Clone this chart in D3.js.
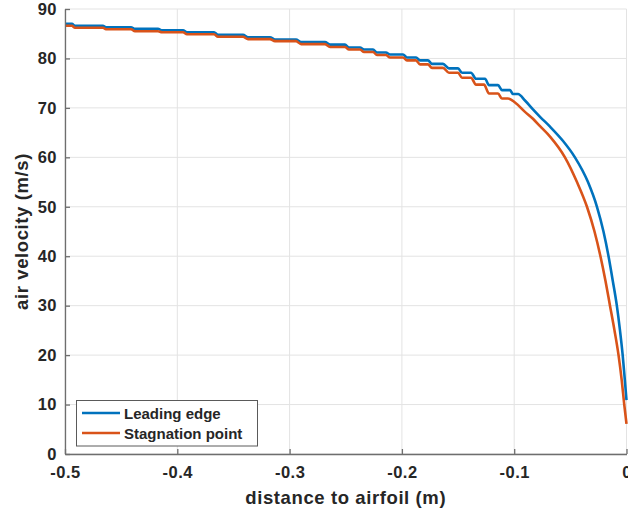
<!DOCTYPE html>
<html>
<head>
<meta charset="utf-8">
<script src="https://cdn.jsdelivr.net/npm/d3@7"></script>
<style>
  html, body { margin: 0; padding: 0; background: #fff; }
  svg { display: block; }
  text { font-family: "Liberation Sans", Arial, Helvetica, sans-serif; font-weight: bold; fill: #262626; }
</style>
</head>
<body>
<svg id="chart" width="628" height="511"></svg>
<script>
// ---- data ----
const seriesNames = ["Leading edge", "Stagnation point"];
const xTicks = [-0.5, -0.4, -0.3, -0.2, -0.1, 0];
const xTickLabels = ["-0.5", "-0.4", "-0.3", "-0.2", "-0.1", "0"];
const yTicks = [0, 10, 20, 30, 40, 50, 60, 70, 80, 90];

const leadingX = [-0.5, -0.4938, -0.4911, -0.4662, -0.4635, -0.4412, -0.4377, -0.4172, -0.4136, -0.3949,
  -0.3914, -0.3673, -0.3638, -0.3415, -0.3370, -0.3175, -0.3130, -0.2943, -0.2898, -0.2685,
  -0.2640, -0.2507, -0.2471, -0.2373, -0.2337, -0.2257, -0.2222, -0.2142, -0.2106, -0.1990,
  -0.1955, -0.1874, -0.1839, -0.1768, -0.1732, -0.1634, -0.1581, -0.1500, -0.1465, -0.1385,
  -0.1340, -0.1260, -0.1224, -0.1144, -0.1109, -0.1037, -0.1011, -0.0966,
  -0.0904, -0.0833, -0.0770, -0.0681, -0.0565, -0.0459, -0.0343, -0.0263, -0.0205, -0.0160,
  -0.0122, -0.0086, -0.0058, -0.0034, -0.0015, 0];
const leadingV = [87.0, 87.0, 86.6, 86.6, 86.3, 86.3, 86.0, 86.0, 85.7, 85.7,
  85.3, 85.3, 84.8, 84.8, 84.3, 84.3, 83.8, 83.8, 83.3, 83.3,
  82.8, 82.8, 82.2, 82.2, 81.8, 81.8, 81.2, 81.2, 80.8, 80.8,
  80.2, 80.2, 79.6, 79.6, 78.9, 78.9, 78.0, 78.0, 77.1, 77.1,
  75.9, 75.9, 74.6, 74.6, 73.6, 73.6, 72.8, 72.8,
  71.5, 69.7, 68.2, 66.2, 63.3, 60.0, 55.0, 50.0, 45.0, 40.0,
  35.0, 30.0, 25.0, 20.0, 15.0, 10.9];

const stagX = [-0.5, -0.4938, -0.4911, -0.4662, -0.4635, -0.4412, -0.4377, -0.4172, -0.4136, -0.3949,
  -0.3914, -0.3673, -0.3638, -0.3415, -0.3370, -0.3175, -0.3130, -0.2943, -0.2898, -0.2685,
  -0.2640, -0.2507, -0.2471, -0.2373, -0.2337, -0.2257, -0.2222, -0.2142, -0.2106, -0.1990,
  -0.1955, -0.1874, -0.1839, -0.1768, -0.1732, -0.1634, -0.1581, -0.1500, -0.1465, -0.1385,
  -0.1340, -0.1269, -0.1224, -0.1144, -0.1109, -0.1055, -0.0993,
  -0.0904, -0.0833, -0.0770, -0.0681, -0.0548, -0.0441, -0.0352, -0.0285, -0.0232, -0.0187,
  -0.0147, -0.0107, -0.0071, -0.0043, -0.0020, 0];
const stagV = [86.6, 86.6, 86.2, 86.2, 85.9, 85.9, 85.5, 85.5, 85.3, 85.3,
  84.9, 84.9, 84.4, 84.4, 83.9, 83.9, 83.5, 83.5, 82.9, 82.9,
  82.3, 82.3, 81.8, 81.8, 81.3, 81.3, 80.7, 80.7, 80.2, 80.2,
  79.6, 79.6, 78.8, 78.8, 78.1, 78.1, 77.1, 77.1, 76.1, 76.1,
  74.7, 74.7, 72.9, 72.9, 71.9, 71.9, 71.1,
  69.2, 67.8, 66.3, 64.2, 60.0, 55.0, 50.0, 45.0, 40.0, 35.0,
  30.0, 25.0, 20.0, 15.0, 10.0, 6.1];

const colors = ["#0072BD", "#D95319"];

// ---- layout ----
const svg = d3.select("#chart");
const L = 65, R = 626.5, T = 9, B = 454;
const x = d3.scaleLinear().domain([-0.5, 0]).range([L, R]);
const y = d3.scaleLinear().domain([0, 90]).range([B, T]);

// grid
const grid = svg.append("g");
grid.selectAll("line.gx").data(xTicks).join("line")
  .attr("x1", d => x(d)).attr("x2", d => x(d)).attr("y1", T).attr("y2", B)
  .attr("stroke", "#e3e3e3").attr("stroke-width", 1);
grid.selectAll("line.gy").data(yTicks).join("line")
  .attr("x1", L).attr("x2", R).attr("y1", d => y(d)).attr("y2", d => y(d))
  .attr("stroke", "#e3e3e3").attr("stroke-width", 1);

// lines
const line = d3.line().x(d => x(d[0])).y(d => y(d[1])).curve(d3.curveMonotoneX);
const series = [d3.zip(leadingX, leadingV), d3.zip(stagX, stagV)];
svg.append("g").selectAll("path").data(series).join("path")
  .attr("d", line)
  .attr("fill", "none")
  .attr("stroke", (d, i) => colors[i])
  .attr("stroke-width", 2.6)
  .attr("stroke-linejoin", "round");

// axes
const xAxis = d3.axisBottom(x).tickValues(xTicks).tickSizeInner(-5).tickSizeOuter(0)
  .tickPadding(10).tickFormat((d, i) => xTickLabels[i]);
const yAxis = d3.axisLeft(y).tickValues(yTicks).tickSizeInner(-5).tickSizeOuter(0)
  .tickPadding(8);

const gx = svg.append("g").attr("transform", `translate(0,${B})`).call(xAxis);
const gy = svg.append("g").attr("transform", `translate(${L},0)`).call(yAxis);
[gx, gy].forEach(g => {
  g.select(".domain").attr("stroke", "#6e6e6e").attr("stroke-width", 1.3);
  g.selectAll(".tick line").attr("stroke", "#6e6e6e").attr("stroke-width", 1.3);
  g.selectAll(".tick text")
    .style("font-family", '"Liberation Sans", Arial, sans-serif')
    .style("font-weight", "bold").style("font-size", "16.5px")
    .style("letter-spacing", "0.5px").attr("fill", "#262626");
});
gx.selectAll(".tick text").attr("dy", "0.71em").attr("y", 12);
gy.selectAll(".tick text").attr("x", -8);

// axis titles
svg.append("text").attr("x", (L + R) / 2).attr("y", 504)
  .attr("text-anchor", "middle").style("font-size", "18.5px").style("letter-spacing", "0.6px")
  .text("distance to airfoil (m)");
svg.append("text")
  .attr("transform", `translate(28,${(T + B) / 2}) rotate(-90)`)
  .attr("text-anchor", "middle").style("font-size", "18.5px").style("letter-spacing", "0.6px")
  .text("air velocity (m/s)");

// legend
const lg = svg.append("g");
lg.append("rect").attr("x", 76.5).attr("y", 400.5).attr("width", 181).attr("height", 45.5)
  .attr("fill", "#fff").attr("stroke", "#5a5a5a").attr("stroke-width", 1);
seriesNames.forEach((name, i) => {
  const ly = 413 + i * 20;
  lg.append("line").attr("x1", 82).attr("x2", 120).attr("y1", ly).attr("y2", ly)
    .attr("stroke", colors[i]).attr("stroke-width", 2.6);
  lg.append("text").attr("x", 124).attr("y", ly + 5.5).style("font-size", "15px").text(name);
});
</script>
</body>
</html>
